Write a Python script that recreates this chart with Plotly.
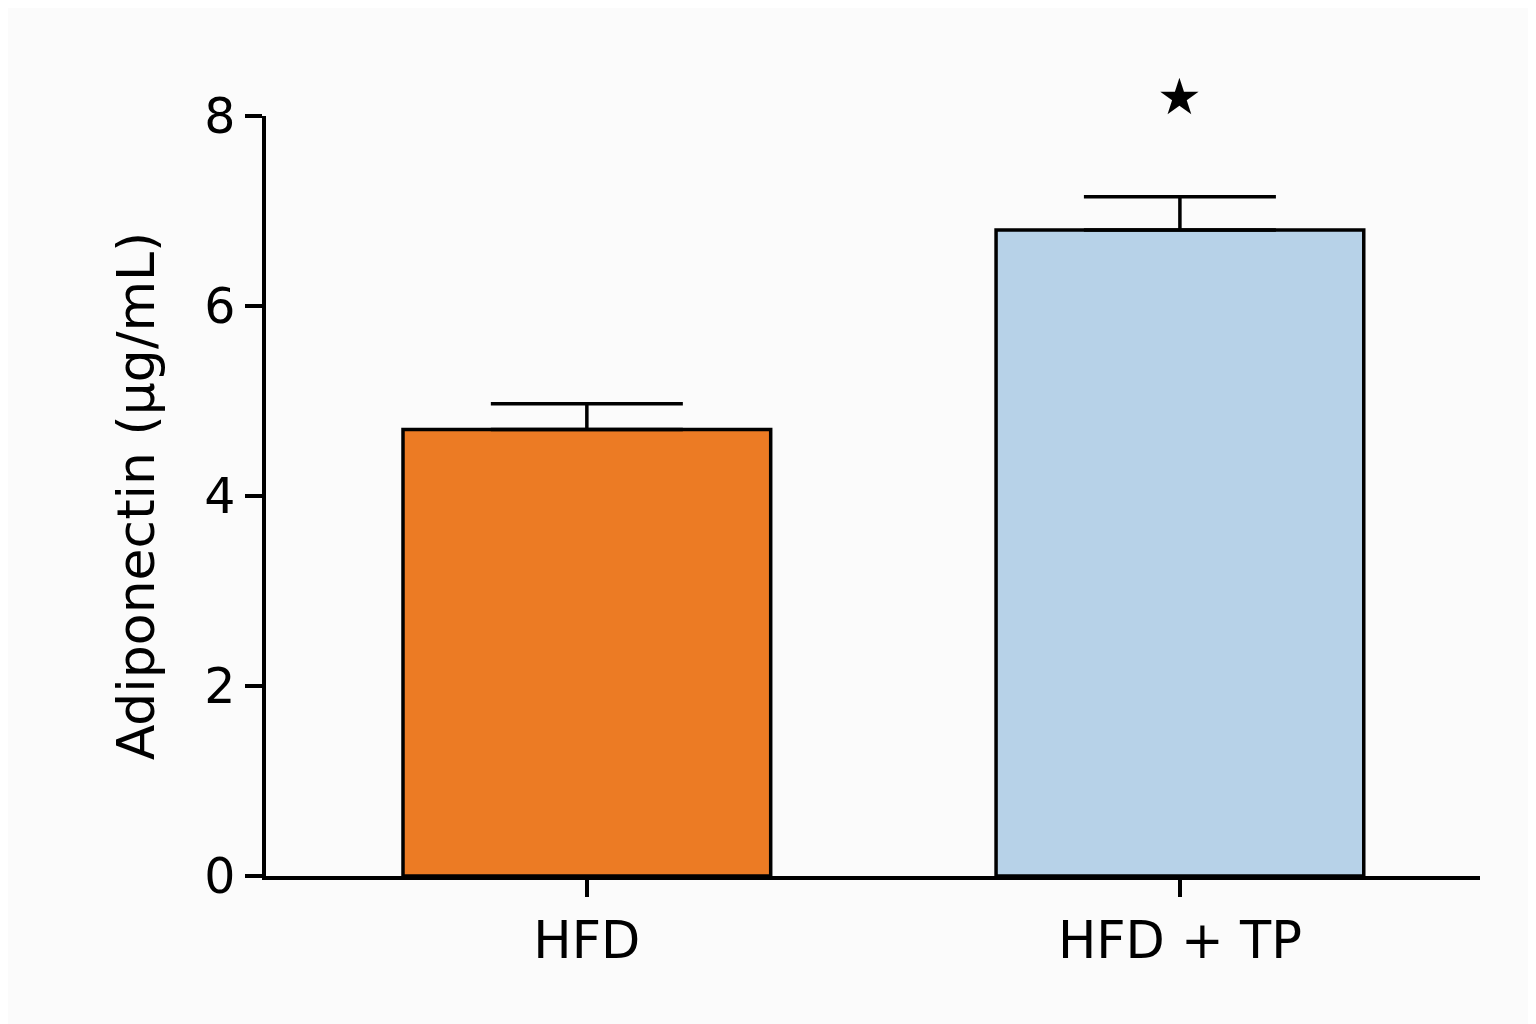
import plotly.graph_objects as go

# Data
groups = ["HFD", "HFD + TP"]
adiponectin = [4.7, 6.8]
sem = [0.27, 0.35]
bar_colors = ["#EC7B24", "#B7D2E8"]
y_ticks = [0, 2, 4, 6, 8]
sig_marks = ["", "★"]
sig_y = 8.2
Y_MAX = 8

FONT = "DejaVu Sans"

fig = go.Figure()
fig.add_trace(go.Bar(
    x=groups, y=adiponectin,
    width=0.62,
    marker=dict(color=bar_colors, line=dict(color="black", width=3.5)),
    error_y=dict(type="data", array=sem, symmetric=False, arrayminus=[0, 0],
                 color="black", thickness=3.5, width=96),
    showlegend=False,
))

# significance star above the treated group (paper y, since it sits above the axis range)
for g, mark in zip(groups, sig_marks):
    if mark:
        fig.add_annotation(x=g, y=sig_y / Y_MAX, yref="paper", text=mark,
                           showarrow=False, yanchor="middle",
                           font=dict(size=50, color="black", family="DejaVu Sans"))

# the page body adds an 8px offset, margins are trimmed to compensate
fig.update_layout(
    width=1536, height=1024,
    margin=dict(l=258, r=64, t=108, b=156),
    paper_bgcolor="#fbfbfb", plot_bgcolor="#fbfbfb",
    font=dict(family=FONT, color="black", size=48),
    bargap=0.38,
)
fig.update_xaxes(
    range=[-0.541, 1.506],
    showline=True, linecolor="black", linewidth=3.5,
    ticks="outside", ticklen=17, tickwidth=3.5, tickcolor="black",
    tickfont=dict(size=51), showgrid=False, zeroline=False,
)
fig.update_yaxes(
    range=[0, Y_MAX], tickvals=y_ticks,
    showline=True, linecolor="black", linewidth=3.5,
    ticks="outside", ticklen=17, tickwidth=3.5, tickcolor="black",
    tickfont=dict(size=49), ticklabelstandoff=0,
    showgrid=False, zeroline=False,
    title=dict(text="Adiponectin (µg/mL)", font=dict(size=52), standoff=34),
)

fig.write_html("out.html")
